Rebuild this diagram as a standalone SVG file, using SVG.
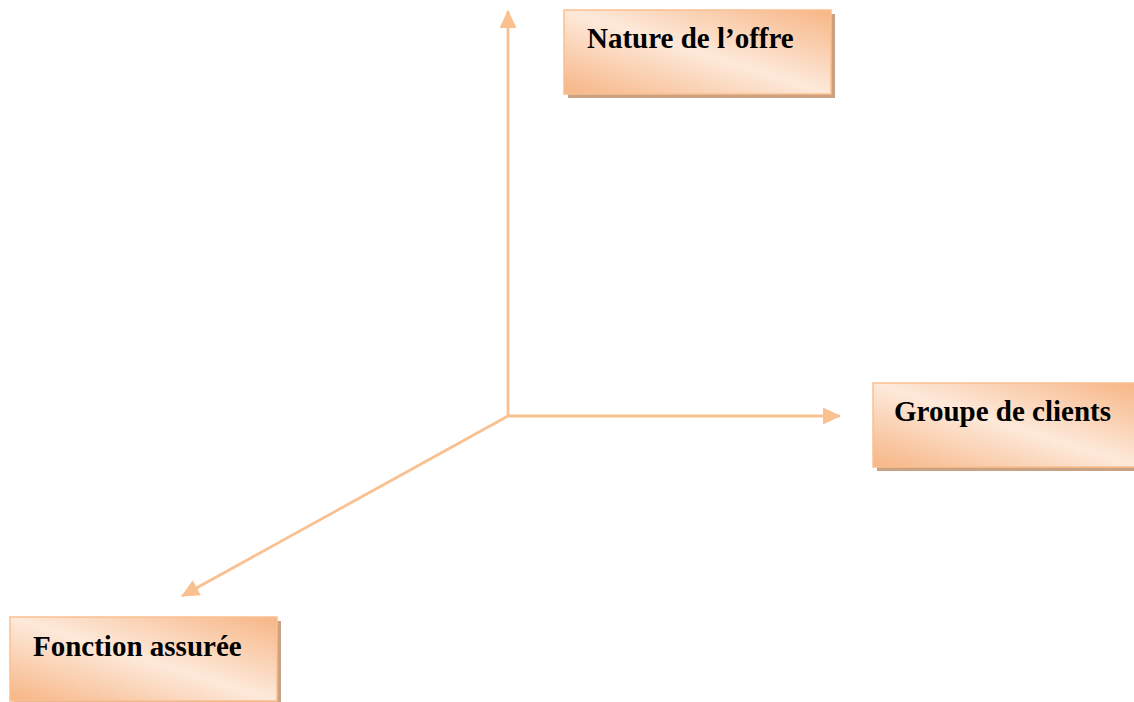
<svg xmlns="http://www.w3.org/2000/svg" width="1134" height="702" viewBox="0 0 1134 702">
  <defs>
    <linearGradient id="boxFill" x1="0" y1="1" x2="1" y2="0">
      <stop offset="0" stop-color="#F7B585"/>
      <stop offset="0.5" stop-color="#FDE9DA"/>
      <stop offset="1" stop-color="#F7B585"/>
    </linearGradient>
    <marker id="head" viewBox="0 0 18 17" refX="17" refY="8.5" markerWidth="18" markerHeight="17" markerUnits="userSpaceOnUse" orient="auto">
      <path d="M0,0 L18,8.5 L0,17 Z" fill="#FAC090"/>
    </marker>
  </defs>
  <style>
    .shadow { fill: #C9A283; }
    .box { fill: url(#boxFill); stroke: #FAC090; stroke-width: 1.5; }
    .label { font-family: "Liberation Serif", "Times New Roman", serif; font-weight: bold; font-size: 29px; fill: #000; }
    .axis { fill: none; stroke: #FAC090; stroke-width: 2.8; }
  </style>
  <rect width="1134" height="702" fill="#FFFFFF"/>

  <!-- three axes from a common origin -->
  <g id="connectors">
    <line class="axis" x1="508" y1="416" x2="508" y2="11" marker-end="url(#head)"/>
    <line class="axis" x1="508" y1="416" x2="840" y2="416" marker-end="url(#head)"/>
    <line class="axis" x1="508" y1="416" x2="182" y2="596" marker-end="url(#head)"/>
  </g>

  <g id="nature-offre">
    <rect class="shadow" x="568" y="14" width="267" height="84"/>
    <rect class="box" x="564" y="10" width="267" height="84"/>
    <text class="label" x="587" y="48">Nature de l’offre</text>
  </g>

  <g id="groupe-clients">
    <rect class="shadow" x="877" y="387" width="267" height="84"/>
    <rect class="box" x="873" y="383" width="267" height="84"/>
    <text class="label" x="894" y="421">Groupe de clients</text>
  </g>

  <g id="fonction-assuree">
    <rect class="shadow" x="14" y="621" width="267" height="84"/>
    <rect class="box" x="10" y="617" width="267" height="84"/>
    <text class="label" x="33" y="656">Fonction assurée</text>
  </g>
</svg>
